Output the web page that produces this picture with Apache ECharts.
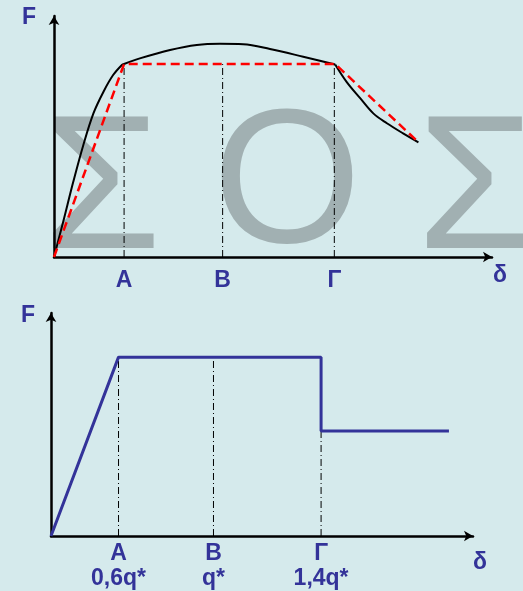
<!DOCTYPE html>
<html>
<head>
<meta charset="utf-8">
<script src="https://cdn.jsdelivr.net/npm/echarts@6/dist/echarts.min.js"></script>
<style>
  html, body { margin: 0; padding: 0; background: #d5eaec; }
  #chart { width: 523px; height: 591px; }
</style>
</head>
<body>
<div id="chart"></div>
<script>
// ---- data ----
// Top diagram: measured (black) force-displacement curve, in three branches
var riseDelta = [0, 2.1, 4.4, 6.7, 9.0, 11.3, 13.5, 15.5, 16.0];
var riseForce = [0, 14.6, 31.2, 46.5, 59.6, 68.6, 75.5, 79.7, 80.1];
var plateauDelta = [16.0, 19.6, 26.5, 32.6, 37.9, 43.2, 49.3, 56.9, 64.2];
var plateauForce = [80.1, 82.4, 85.9, 88.0, 88.5, 88.3, 86.3, 83.1, 79.9];
var softenDelta = [64.2, 66.8, 69.9, 72.9, 76.0, 79.7, 83.2];
var softenForce = [79.9, 72.7, 65.9, 59.6, 55.5, 51.3, 47.6];
// Top diagram: idealised (red dashed) curve
var idealDelta = [0, 16.0, 64.2, 83.2];
var idealForce = [0, 80.1, 80.1, 47.6];
// Bottom diagram: model curve (blue)
var modelDelta = [0, 16.0, 64.0, 64.0, 94.3];
var modelForce = [0, 80.2, 80.2, 47.1, 47.1];
// Characteristic points
var pointPos = [16.0, 38.5, 64.0];
var topGuideHeight = [80.1, 80.1, 80.1];
var bottomGuideHeight = [80.2, 80.2, 47.1];
var topTickLabels = ['A', 'B', 'Γ'];
var bottomTickLabels = ['A\n0,6q*', 'B\nq*', 'Γ\n1,4q*'];
var watermarkLetters = ['Σ', 'Ο', 'Σ'];

// ---- styles ----
var FONT = '"Liberation Sans", Arial, sans-serif';
var BLUE = '#333399';
var DASHDOT = [7, 3, 1, 3];

function zip(xs, ys) { return xs.map(function (x, i) { return [x, ys[i]]; }); }
function labelFor(list) {
  return function (v) {
    for (var i = 0; i < pointPos.length; i++) if (Math.abs(pointPos[i] - v) < 1e-6) return list[i];
    return '';
  };
}

function makeX(gridIndex, labels, margin, lineHeight, nameGap, namePadTop) {
  return {
    type: 'value', gridIndex: gridIndex, min: 0, max: 100,
    splitLine: { show: false }, axisTick: { show: false },
    axisLine: { show: true, symbol: ['none', 'arrow'], symbolSize: [8, 9],
      lineStyle: { color: '#000', width: 2.5 } },
    axisLabel: { customValues: pointPos, formatter: labelFor(labels), margin: margin,
      color: BLUE, fontWeight: 'bold', fontSize: 23, fontFamily: FONT, lineHeight: lineHeight,
      showMinLabel: true, showMaxLabel: true, hideOverlap: false },
    name: 'δ', nameLocation: 'end', nameGap: nameGap, nameMoveOverlap: false,
    nameTextStyle: { color: BLUE, fontWeight: 'bold', fontSize: 23, fontFamily: FONT,
      align: 'center', verticalAlign: 'top', lineHeight: 24, padding: [namePadTop, 0, 0, 0] }
  };
}
function makeY(gridIndex, nameGap, padRight) {
  return {
    type: 'value', gridIndex: gridIndex, min: 0, max: 100,
    splitLine: { show: false }, axisTick: { show: false }, axisLabel: { show: false },
    axisLine: { show: true, symbol: ['none', 'arrow'], symbolSize: [8, 9],
      lineStyle: { color: '#000', width: 2.5 } },
    name: 'F', nameLocation: 'end', nameGap: nameGap, nameMoveOverlap: false,
    nameTextStyle: { color: BLUE, fontWeight: 'bold', fontSize: 23, fontFamily: FONT,
      align: 'right', verticalAlign: 'middle', lineHeight: 24, padding: [0, padRight, 0, 0] }
  };
}

var series = [];
// guide lines (dash-dot)
pointPos.forEach(function (p, i) {
  series.push({ type: 'line', xAxisIndex: 0, yAxisIndex: 0, symbol: 'none', silent: true, z: 1,
    data: [[p, 0], [p, topGuideHeight[i]]],
    lineStyle: { color: '#000', width: 1, type: DASHDOT } });
  series.push({ type: 'line', xAxisIndex: 1, yAxisIndex: 1, symbol: 'none', silent: true, z: 1,
    data: [[p, 0], [p, bottomGuideHeight[i]]],
    lineStyle: { color: '#000', width: 1, type: DASHDOT } });
});
[[riseDelta, riseForce], [plateauDelta, plateauForce], [softenDelta, softenForce]].forEach(function (b) {
  series.push({ type: 'line', xAxisIndex: 0, yAxisIndex: 0, symbol: 'none', smooth: 0.35, z: 3,
    data: zip(b[0], b[1]), lineStyle: { color: '#000', width: 2 } });
});
series.push({ type: 'line', xAxisIndex: 0, yAxisIndex: 0, symbol: 'none', z: 4,
  data: zip(idealDelta, idealForce), lineStyle: { color: '#ff0000', width: 2.5, type: [9, 5] } });
series.push({ type: 'line', xAxisIndex: 1, yAxisIndex: 1, symbol: 'none', z: 4,
  data: zip(modelDelta, modelForce), lineStyle: { color: BLUE, width: 3 } });

var wmX = [102, 287, 476];
var wmY = [195, 189, 195];
var graphics = watermarkLetters.map(function (ch, i) {
  return { type: 'text', z: -10, silent: true, x: wmX[i], y: wmY[i],
    style: { text: ch, fontSize: 191, fontFamily: FONT, fill: '#a1b0b2',
      align: 'center', verticalAlign: 'middle' } };
});

var chart = echarts.init(document.getElementById('chart'), null, { renderer: 'canvas' });
chart.setOption({
  animation: false,
  backgroundColor: '#d5eaec',
  graphic: graphics,
  grid: [
    { left: 54, top: 16, right: 31, bottom: 334, outerBoundsMode: 'none', containLabel: false },
    { left: 51, top: 313, right: 50, bottom: 55, outerBoundsMode: 'none', containLabel: false }
  ],
  xAxis: [ makeX(0, topTickLabels, 12, 24, 8, 7), makeX(1, bottomTickLabels, 5, 25, 7, 15) ],
  yAxis: [ makeY(0, -2, 18), makeY(1, -2.5, 16) ],
  series: series
});
</script>
</body>
</html>
